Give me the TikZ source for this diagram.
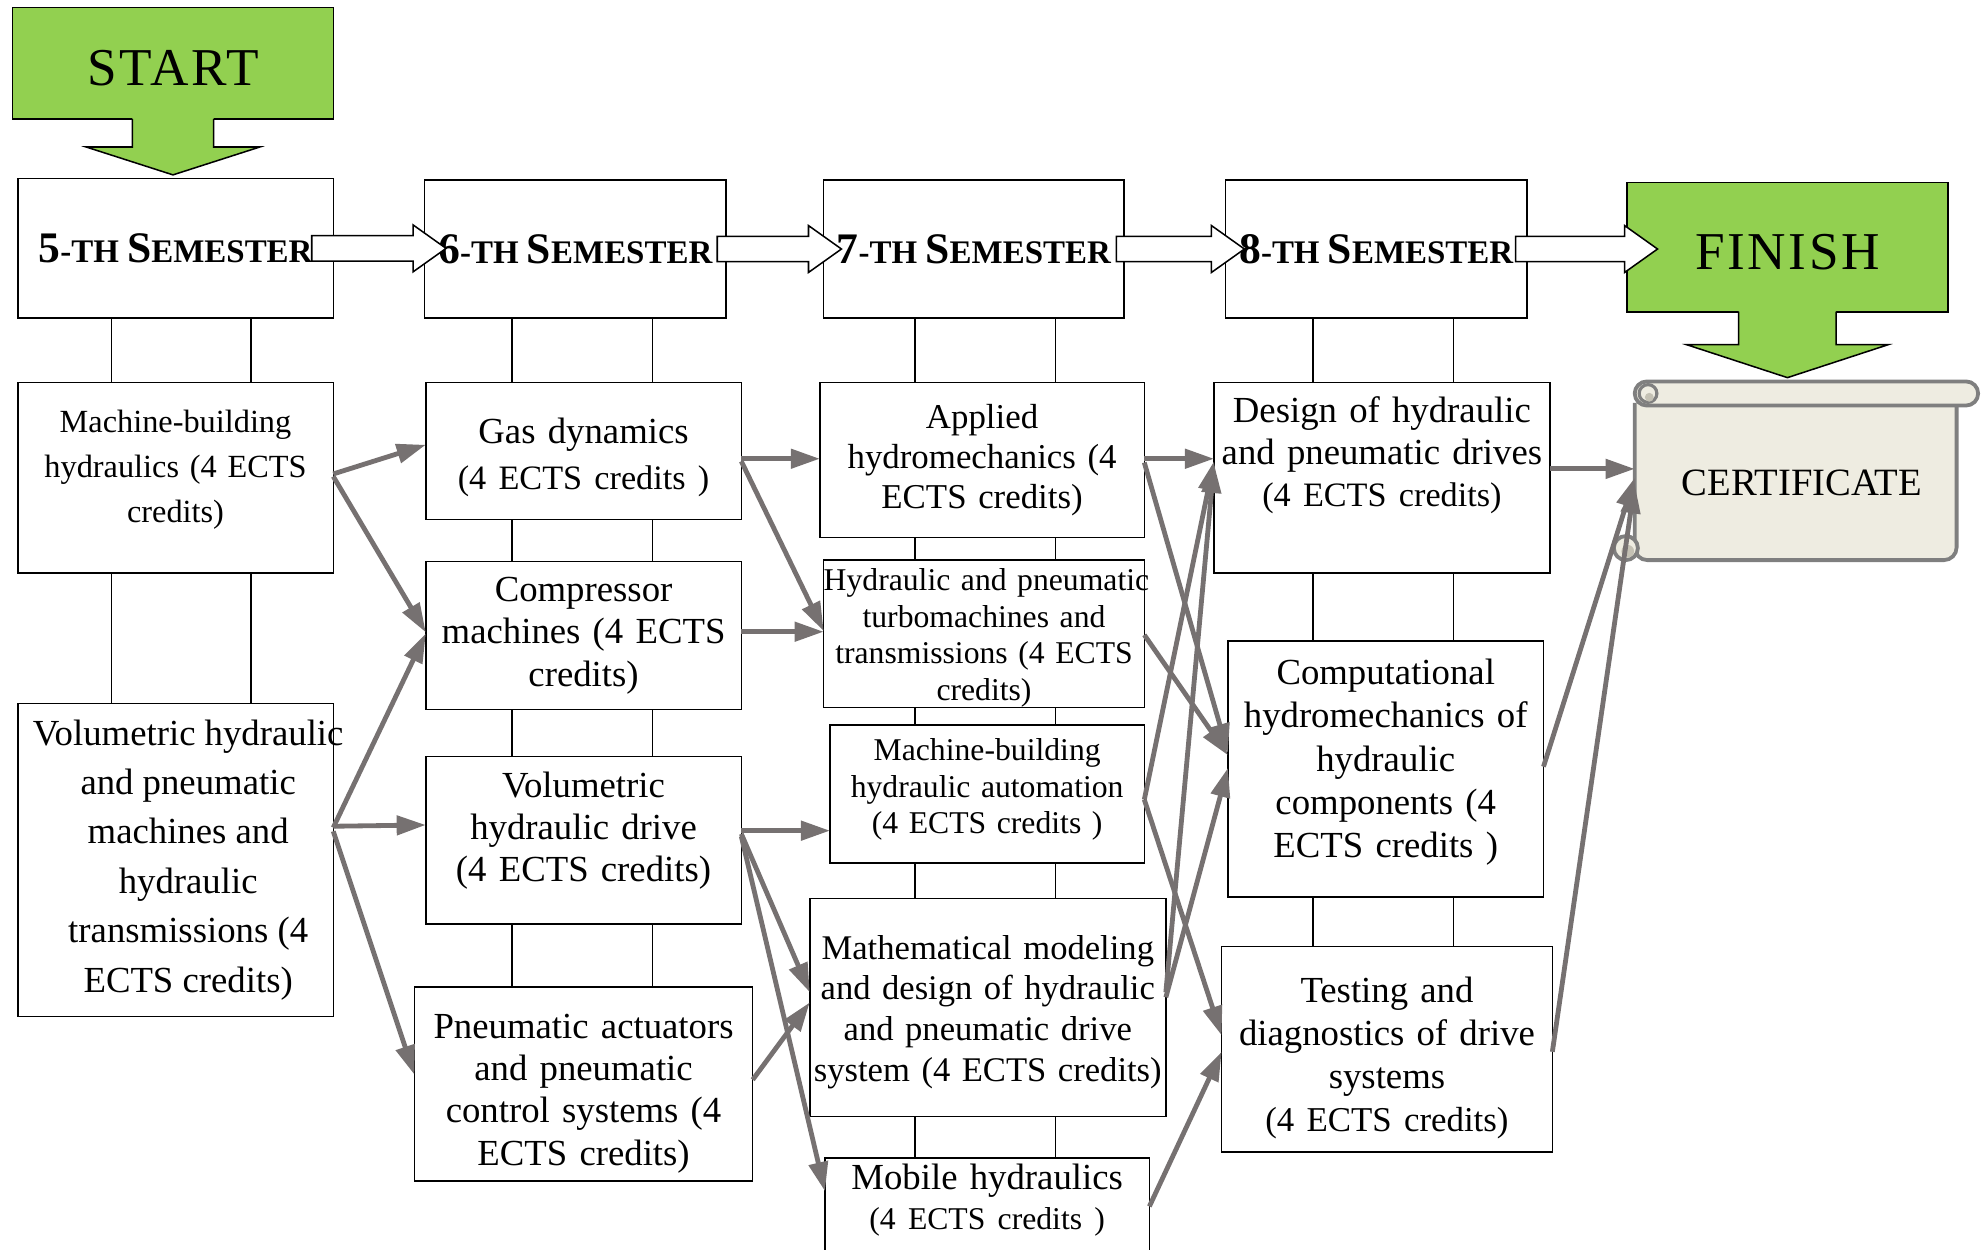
\documentclass[tikz,border=0pt]{standalone}
\usepackage{fontspec}
\setmainfont{Liberation Serif}
\newfontfamily\spacedserif[LetterSpace=5]{Liberation Serif}
\usepackage{tikz}
\usetikzlibrary{arrows.meta,calc,positioning}

\definecolor{startgreen}{HTML}{92D050}
\definecolor{linkgray}{HTML}{767171}
\definecolor{paper}{HTML}{EEECE1}
\definecolor{paperline}{HTML}{7F7F7F}
\definecolor{curlgray}{HTML}{C4C1B4}

\newcommand{\fs}[2]{\fontsize{#1}{#2}\selectfont}
\newcommand{\semtitle}[1]{{\bfseries{\fs{34.4}{40}#1}{\fs{26}{30}-TH }{\fs{34.4}{40}S}{\fs{26}{30}EMESTER}}}

\tikzset{
  course/.style={draw, line width=1.2pt, inner sep=0pt, outer sep=0pt, align=center},
  semester/.style={draw, line width=1.2pt, inner sep=0pt, outer sep=0pt, minimum width=#1, minimum height=109pt},
  greenbox/.style={draw, line width=1.2pt, fill=startgreen, outer sep=0pt, minimum width=253pt, font=\spacedserif\fs{42}{48}},
  link/.style={draw=linkgray, line width=3.8pt, -{Triangle[length=23pt,width=15pt]}},
  rung/.style={line width=1.2pt},
  blockarrow/.style={draw, fill=white, line width=1.2pt},
  scroll/.style={draw=paperline, fill=paper, line width=3pt},
}

\begin{document}
\begin{tikzpicture}[x=1pt,y=-1pt]
\useasboundingbox (0,0) rectangle (1568,986);
\clip (0,0) rectangle (1568,986);

% start and finish
\node[greenbox, minimum height=88pt, text height=36pt] (start) at (136.5,50) {START};
\fill[startgreen, shift={(start.south)}] (-32,-1.5) -- (-32,22) -- (-68.5,22) -- (0,44) -- (68.5,22) -- (32,22) -- (32,-1.5) -- cycle;
\draw[line width=1.2pt, shift={(start.south)}] (-32,0) -- (-32,22) -- (-68.5,22) -- (0,44) -- (68.5,22) -- (32,22) -- (32,0);
\node[greenbox, minimum height=102pt, text height=35pt] (finish) at (1410.5,195) {FINISH};
\fill[startgreen, shift={(finish.south)}] (-38.5,-1.5) -- (-38.5,26) -- (-79.5,26) -- (0,52) -- (79.5,26) -- (38.5,26) -- (38.5,-1.5) -- cycle;
\draw[line width=1.2pt, shift={(finish.south)}] (-38.5,0) -- (-38.5,26) -- (-79.5,26) -- (0,52) -- (79.5,26) -- (38.5,26) -- (38.5,0);

% semesters
\node[semester=249pt, minimum height=110pt] (sem5) at (138.5,196) {\semtitle{5}};
\node[semester=238pt] (sem6) at (454,196.5) {\semtitle{6}};
\node[semester=237pt] (sem7) at (768.5,196.5) {\semtitle{7}};
\node[semester=238pt] (sem8) at (1086,196.5) {\semtitle{8}};

% 5-th semester
\node[course, text width=249pt, minimum height=150pt, font=\fs{25.5}{35.5}] (mbh) at (138.5,377)
  {Machine-building\\ hydraulics (4 ECTS\\ credits)\par\kern13pt};
\node[course, minimum width=249pt, minimum height=247pt,
  label={[align=center, font=\fs{29}{39}, xshift=10pt]center:Volumetric hydraulic\\ and pneumatic\\ machines and\\ hydraulic\\ transmissions (4\\ ECTS credits)}] (vhp) at (138.5,678.5) {};

% 6-th semester
\node[course, text width=249pt, minimum height=108pt, font=\fs{29}{37}] (gas) at (460.5,356)
  {\rule{0pt}{30pt}Gas dynamics\\ {\fs{27}{37}(4 ECTS credits )}};
\node[course, text width=249pt, minimum height=117pt, font=\fs{29}{33.5}] (comp) at (460.5,501.5)
  {Compressor\\ machines (4 ECTS\\ credits)};
\node[course, text width=249pt, minimum height=132pt, font=\fs{29}{33.5}] (vol) at (460.5,663)
  {Volumetric\\ hydraulic drive\\ (4 ECTS credits)\par\kern15pt};
\node[course, text width=267pt, minimum height=153pt, font=\fs{29}{33.5}] (pneu) at (460.5,855.5)
  {\rule{0pt}{34pt}Pneumatic actuators\\ and pneumatic\\ control systems (4\\ ECTS credits)};

% 7-th semester
\node[course, text width=256pt, minimum height=122pt, font=\fs{27.5}{31.5}] (applied) at (775,363)
  {Applied\\ hydromechanics (4\\ ECTS credits)};
\node[course, text width=253pt, minimum height=114pt, font=\fs{25}{29}] (turbo) at (776.5,500)
  {\rule{0pt}{24pt}\mbox{Hydraulic and pneumatic}\\ turbomachines and\\ transmissions (4 ECTS\\ credits)};
\node[course, text width=248pt, minimum height=109pt, font=\fs{25}{29}] (mba) at (779,626.5)
  {Machine-building\\ hydraulic automation\\ (4 ECTS credits )\par\kern7pt};
\node[course, text width=281pt, minimum height=172pt, font=\fs{27.3}{32}] (math) at (779.5,795)
  {\rule{0pt}{26pt}Mathematical modeling\\ and design of hydraulic\\ and pneumatic drive\\ system (4 ECTS credits)};
\node[course, text width=256pt, minimum height=96pt, font=\fs{29}{32}] (mobile) at (779,962)
  {Mobile hydraulics\\ {\fs{25}{32}(4 ECTS credits )}\par\kern30pt};

% 8-th semester
\node[course, text width=265pt, minimum height=150pt, font=\fs{29}{33}] (design) at (1090.5,377)
  {Design of hydraulic\\ and pneumatic drives\\ {\fs{27}{33}(4 ECTS credits)}\par\kern36pt};
\node[course, text width=249pt, minimum height=202pt, font=\fs{29}{34}] (compu) at (1093.5,607)
  {Computational\\ hydromechanics of\\ hydraulic\\ components (4\\ ECTS credits )\par\kern11pt};
\node[course, text width=261pt, minimum height=162pt, font=\fs{29}{34}] (testing) at (1094.5,828)
  {\rule{0pt}{34pt}Testing and\\ diagnostics of drive\\ systems\\ {\fs{27.5}{34}(4 ECTS credits)}};

% certificate scroll
\filldraw[scroll, rounded corners=10pt] (1290,318) -- (1290,442) -- (1544,442) -- (1544,318);
\filldraw[scroll, rounded corners=9.5pt] (1290,301) rectangle (1561,320);
\filldraw[scroll, line width=2.5pt] (1300.5,310.5) circle[radius=7pt];
\fill[curlgray] (1301.5,313.5) circle[radius=3.5pt];
\filldraw[scroll] (1283,432.5) circle[radius=9.5pt];
\fill[curlgray] (1284.5,435) circle[radius=5pt];
\node[minimum width=254pt, minimum height=122pt, inner sep=0pt, outer sep=0pt, font=\fs{30.5}{34}] (scroll) at (1417,381) {\hspace*{10pt}CERTIFICATE};

% rungs between boxes
\coordinate (r5a) at (88,0);   \coordinate (r5b) at (198,0);
\coordinate (r6a) at (404,0);  \coordinate (r6b) at (515,0);
\coordinate (r7a) at (722,0);  \coordinate (r7b) at (833,0);
\coordinate (r8a) at (1036,0); \coordinate (r8b) at (1147,0);
\foreach \a/\b/\l/\r in {sem5/mbh/r5a/r5b, mbh/vhp/r5a/r5b,
    sem6/gas/r6a/r6b, gas/comp/r6a/r6b, comp/vol/r6a/r6b, vol/pneu/r6a/r6b,
    sem7/applied/r7a/r7b, applied/turbo/r7a/r7b, turbo/mba/r7a/r7b, mba/math/r7a/r7b, math/mobile/r7a/r7b,
    sem8/design/r8a/r8b, design/compu/r8a/r8b, compu/testing/r8a/r8b}
  \draw[rung] (\a.south -| \l) -- (\b.north -| \l) (\a.south -| \r) -- (\b.north -| \r);

% hollow arrows between semesters
\foreach \a/\b/\ds/\dt in {sem5/sem6/17/17, sem6/sem7/7/14, sem7/sem8/6/15, sem8/finish/9/24}{
  \path ($(\a.east)+(-\ds,0)$) coordinate (s) ($(\b.west)+(\dt,0)$) coordinate (t);
  \draw[blockarrow] ($(s)+(0,-10)$) -- ($(s -| t)+(-26,-10)$) -- ($(s -| t)+(-26,-18.5)$) -- (s -| t)
    -- ($(s -| t)+(-26,18.5)$) -- ($(s -| t)+(-26,10)$) -- ($(s)+(0,10)$) -- cycle;
}

% prerequisites
\foreach \a/\da/\b/\db in {mbh/-3/gas/-5, mbh/-1/comp/-2.5, vhp/-25.5/comp/-1.5, vhp/-26.5/vol/-12, vhp/-22.5/pneu/-7.5,
    gas/6/applied/-1, gas/8/turbo/-2, comp/-3/turbo/-1.5, vol/-7.5/mba/29, vol/-5/math/-12, vol/-3/mobile/-22, pneu/-3.5/math/-4,
    applied/-1/design/-15, applied/2/compu/-13, turbo/1/compu/-11, mba/4.5/design/-13, mba/4.5/testing/-11,
    math/-12/design/-11, math/-8/compu/-1, mobile/-10/testing/2,
    design/-7/scroll/-11, compu/-2/scroll/-4, testing/2/scroll/1}
  \draw[link] ($(\a.east)+(0,\da)$) -- ($(\b.west)+(0,\db)$);
\end{tikzpicture}
\end{document}
